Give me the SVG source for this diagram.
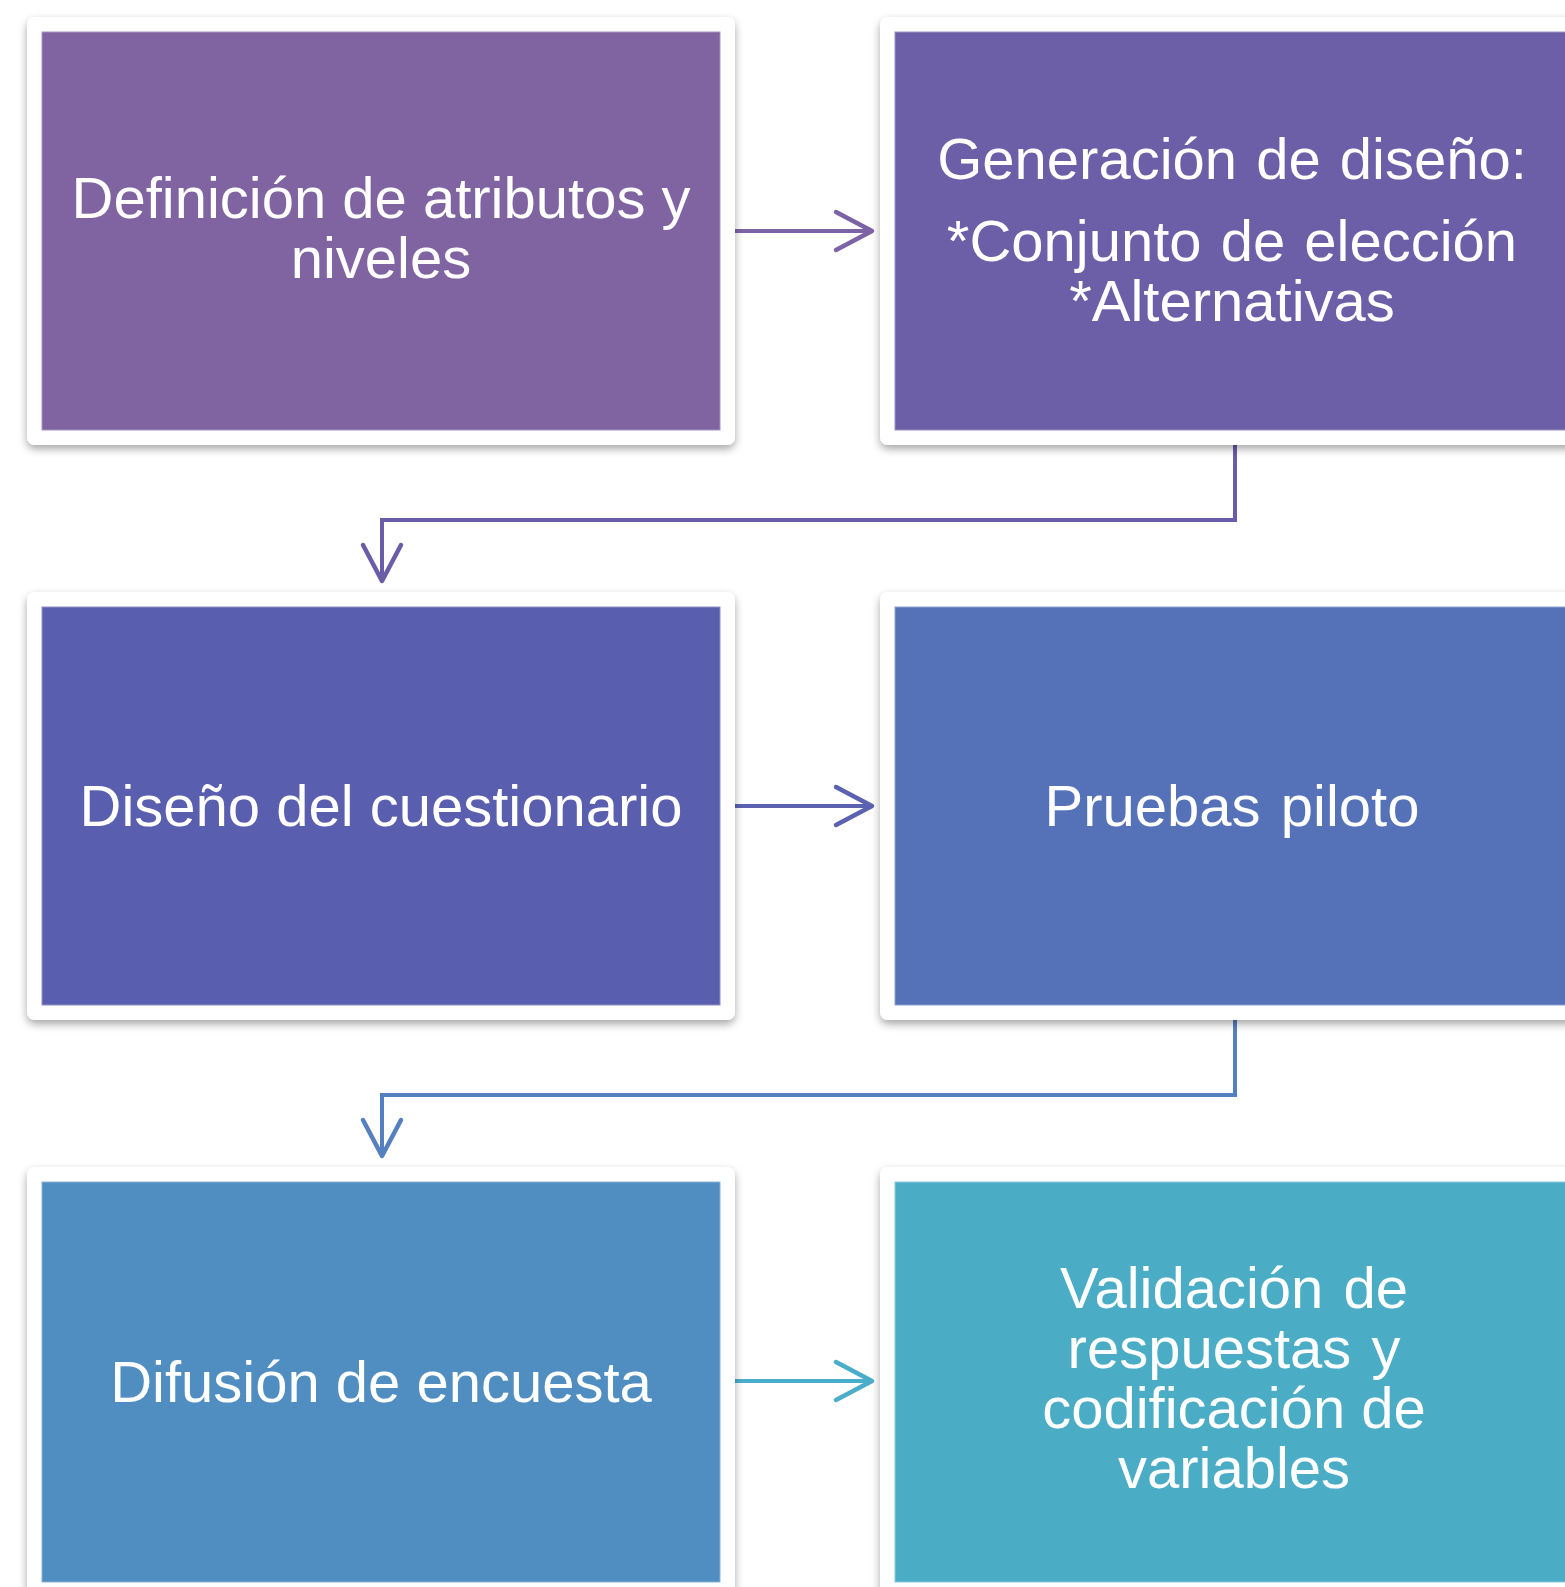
<svg xmlns="http://www.w3.org/2000/svg" width="1565" height="1587" viewBox="0 0 1565 1587">
<style>
.frame{fill:#ffffff;filter:url(#sh)}
.lbl{font-family:"Liberation Sans",Arial,sans-serif;font-size:58px;fill:#ffffff;text-anchor:middle}
.conn{fill:none;stroke-width:4;stroke-linejoin:miter}
.head{fill:none;stroke-width:4.5;stroke-linecap:round;stroke-linejoin:round}
</style>
<defs>
<filter id="sh" x="-10%" y="-10%" width="120%" height="125%">
<feDropShadow dx="0" dy="4" stdDeviation="4" flood-color="#000000" flood-opacity="0.35"/>
</filter>
</defs>
<rect width="1565" height="1587" fill="#ffffff"/>
<g id="connectors">
<line class="conn" x1="735" y1="231" x2="870" y2="231" stroke="#7B63A6"/>
<polyline class="head" points="836,212 872,231 836,250" stroke="#7B63A6"/>
<polyline class="conn" points="1235,444 1235,520 382,520 382,579" stroke="#6B5CA8"/>
<polyline class="head" points="363,545 382,581 401,545" stroke="#6B5CA8"/>
<line class="conn" x1="735" y1="806" x2="870" y2="806" stroke="#5B62B0"/>
<polyline class="head" points="836,787 872,806 836,825" stroke="#5B62B0"/>
<polyline class="conn" points="1235,1019 1235,1095 382,1095 382,1154" stroke="#5580BF"/>
<polyline class="head" points="363,1120 382,1156 401,1120" stroke="#5580BF"/>
<line class="conn" x1="735" y1="1381" x2="870" y2="1381" stroke="#4AAECB"/>
<polyline class="head" points="836,1362 872,1381 836,1400" stroke="#4AAECB"/>
</g>
<g id="n1">
<rect class="frame" x="27" y="17" width="708" height="428" rx="8"/>
<rect x="42" y="32" width="678" height="398" fill="#8064A2" stroke="#A592C0" stroke-width="1"/>
<text class="lbl" x="381" y="218">Definición de atributos y</text>
<text class="lbl" x="381" y="278">niveles</text>
</g>
<g id="n2">
<rect class="frame" x="880" y="17" width="708" height="428" rx="8"/>
<rect x="895" y="32" width="678" height="398" fill="#6C5EA7" stroke="#9A90C5" stroke-width="1"/>
<text class="lbl" x="1232" y="179" word-spacing="3">Generación de diseño:</text>
<text class="lbl" x="1232" y="261" word-spacing="3">*Conjunto de elección</text>
<text class="lbl" x="1232" y="321">*Alternativas</text>
</g>
<g id="n3">
<rect class="frame" x="27" y="592" width="708" height="428" rx="8"/>
<rect x="42" y="607" width="678" height="398" fill="#5A5EAE" stroke="#8E90CA" stroke-width="1"/>
<text class="lbl" x="381" y="826">Diseño del cuestionario</text>
</g>
<g id="n4">
<rect class="frame" x="880" y="592" width="708" height="428" rx="8"/>
<rect x="895" y="607" width="678" height="398" fill="#5572B9" stroke="#8CA0D2" stroke-width="1"/>
<text class="lbl" x="1232" y="826" word-spacing="4">Pruebas piloto</text>
</g>
<g id="n5">
<rect class="frame" x="27" y="1167" width="708" height="428" rx="8"/>
<rect x="42" y="1182" width="678" height="400" fill="#508DC0" stroke="#8BB4D8" stroke-width="1"/>
<text class="lbl" x="381" y="1402">Difusión de encuesta</text>
</g>
<g id="n6">
<rect class="frame" x="880" y="1167" width="708" height="428" rx="8"/>
<rect x="895" y="1182" width="678" height="400" fill="#4BACC6" stroke="#8ACBDC" stroke-width="1"/>
<text class="lbl" x="1234" y="1308" word-spacing="4">Validación de</text>
<text class="lbl" x="1234" y="1368" word-spacing="4">respuestas y</text>
<text class="lbl" x="1234" y="1428">codificación de</text>
<text class="lbl" x="1234" y="1488">variables</text>
</g>
</svg>
